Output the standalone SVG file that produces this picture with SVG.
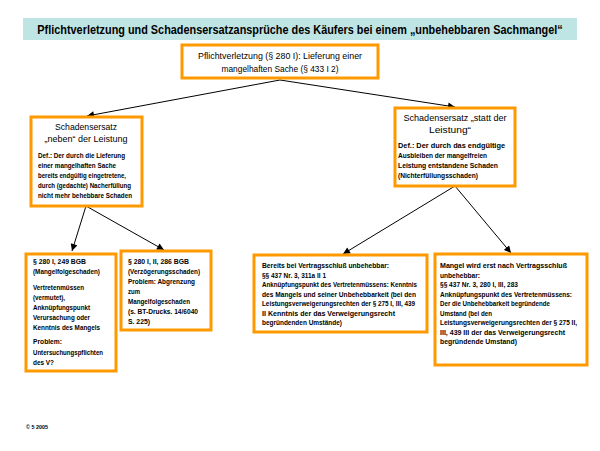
<svg xmlns="http://www.w3.org/2000/svg" width="600" height="451" viewBox="0 0 600 451">
<defs>
<style>
text{font-family:"Liberation Sans Narrow","Liberation Sans",Arial,sans-serif;fill:#000}
.title{font-size:12px;font-weight:bold}
.hd{font-size:9.5px}
.bd{font-size:7.2px;font-weight:bold}
.mid{text-anchor:middle}
.box{fill:#fff;stroke:#ff9900;stroke-width:3}
.con{stroke:#000;stroke-width:1;fill:none}
.small{font-size:6px;font-weight:bold}
</style>
<marker id="ah" viewBox="0 0 10 10" refX="10" refY="5" markerWidth="8" markerHeight="7" markerUnits="userSpaceOnUse" orient="auto">
<path d="M0,0 L10,5 L0,10 z" fill="#000"/>
</marker>
</defs>
<rect width="600" height="451" fill="#fff"/>
<g id="title">
<rect x="23" y="18" width="554" height="22" fill="#bfe4e4"/>
<text class="title mid" transform="translate(300,33.5) scale(0.85,1)" x="0" y="0" textLength="618" lengthAdjust="spacingAndGlyphs">Pflichtverletzung und Schadensersatzansprüche des Käufers bei einem „unbehebbaren Sachmangel“</text>
</g>
<g id="connectors">
<line class="con" x1="280" y1="80" x2="87" y2="116" marker-end="url(#ah)"/>
<line class="con" x1="280" y1="80" x2="455" y2="107" marker-end="url(#ah)"/>
<line class="con" x1="86" y1="206" x2="72" y2="251" marker-end="url(#ah)"/>
<line class="con" x1="86" y1="206" x2="164" y2="250" marker-end="url(#ah)"/>
<line class="con" x1="455" y1="186" x2="343" y2="254" marker-end="url(#ah)"/>
<line class="con" x1="455" y1="186" x2="511" y2="253" marker-end="url(#ah)"/>
</g>
<g id="node-root">
<rect class="box" x="182" y="45" width="196" height="33"/>
<text class="hd mid" x="280" y="59" textLength="164" lengthAdjust="spacingAndGlyphs">Pflichtverletzung (§ 280 I): Lieferung einer</text>
<text class="hd mid" x="280" y="72" textLength="117" lengthAdjust="spacingAndGlyphs">mangelhaften Sache (§ 433 I 2)</text>
</g>
<g id="node-neben">
<rect class="box" x="31" y="117" width="111" height="89"/>
<text class="hd mid" x="86" y="130" textLength="62" lengthAdjust="spacingAndGlyphs">Schadensersatz</text>
<text class="hd mid" x="86" y="142" textLength="83" lengthAdjust="spacingAndGlyphs">„neben“ der Leistung</text>
<text class="bd" x="38" y="158" textLength="87" lengthAdjust="spacingAndGlyphs">Def.: Der durch die Lieferung</text>
<text class="bd" x="38" y="168" textLength="78" lengthAdjust="spacingAndGlyphs">einer mangelhaften Sache</text>
<text class="bd" x="38" y="178" textLength="88" lengthAdjust="spacingAndGlyphs">bereits endgültig eingetretene,</text>
<text class="bd" x="38" y="188" textLength="93" lengthAdjust="spacingAndGlyphs">durch (gedachte) Nacherfüllung</text>
<text class="bd" x="38" y="198" textLength="94" lengthAdjust="spacingAndGlyphs">nicht mehr behebbare Schaden</text>
</g>
<g id="node-statt">
<rect class="box" x="395" y="108" width="120" height="78"/>
<text class="hd mid" x="455" y="121" textLength="103" lengthAdjust="spacingAndGlyphs">Schadensersatz „statt der</text>
<text class="hd mid" x="450" y="133" textLength="42" lengthAdjust="spacingAndGlyphs">Leistung“</text>
<text class="bd" x="398" y="148" textLength="107" lengthAdjust="spacingAndGlyphs">Def.: Der durch das endgültige</text>
<text class="bd" x="398" y="157.5" textLength="89" lengthAdjust="spacingAndGlyphs">Ausbleiben der mangelfreien</text>
<text class="bd" x="398" y="167.5" textLength="100" lengthAdjust="spacingAndGlyphs">Leistung entstandene Schaden</text>
<text class="bd" x="398" y="178" textLength="80" lengthAdjust="spacingAndGlyphs">(Nichterfüllungsschaden)</text>
</g>
<g id="node-mangelfolge">
<rect class="box" x="26" y="254" width="90" height="117"/>
<text class="bd" x="33" y="264" textLength="53" lengthAdjust="spacingAndGlyphs">§ 280 I, 249 BGB</text>
<text class="bd" x="33" y="274" textLength="67" lengthAdjust="spacingAndGlyphs">(Mangelfolgeschaden)</text>
<text class="bd" x="33" y="290" textLength="51" lengthAdjust="spacingAndGlyphs">Vertretenmüssen</text>
<text class="bd" x="33" y="300" textLength="32" lengthAdjust="spacingAndGlyphs">(vermutet),</text>
<text class="bd" x="33" y="310" textLength="57" lengthAdjust="spacingAndGlyphs">Anknüpfungspunkt</text>
<text class="bd" x="33" y="320" textLength="57" lengthAdjust="spacingAndGlyphs">Verursachung oder</text>
<text class="bd" x="33" y="330" textLength="67" lengthAdjust="spacingAndGlyphs">Kenntnis des Mangels</text>
<text class="bd" x="33" y="344" textLength="29" lengthAdjust="spacingAndGlyphs">Problem:</text>
<text class="bd" x="33" y="355" textLength="70" lengthAdjust="spacingAndGlyphs">Untersuchungspflichten</text>
<text class="bd" x="33" y="365" textLength="21" lengthAdjust="spacingAndGlyphs">des V?</text>
</g>
<g id="node-verzoegerung">
<rect class="box" x="121" y="251" width="90" height="79"/>
<text class="bd" x="128" y="264" textLength="61" lengthAdjust="spacingAndGlyphs">§ 280 I, II, 286 BGB</text>
<text class="bd" x="128" y="274" textLength="72" lengthAdjust="spacingAndGlyphs">(Verzögerungsschaden)</text>
<text class="bd" x="128" y="284" textLength="67" lengthAdjust="spacingAndGlyphs">Problem: Abgrenzung</text>
<text class="bd" x="128" y="294" textLength="12" lengthAdjust="spacingAndGlyphs">zum</text>
<text class="bd" x="128" y="304" textLength="62" lengthAdjust="spacingAndGlyphs">Mangelfolgeschaden</text>
<text class="bd" x="128" y="314" textLength="70" lengthAdjust="spacingAndGlyphs">(s. BT-Drucks. 14/6040</text>
<text class="bd" x="128" y="324" textLength="22" lengthAdjust="spacingAndGlyphs">S. 225)</text>
</g>
<g id="node-anfaenglich">
<rect class="box" x="254" y="255" width="173" height="77"/>
<text class="bd" x="262" y="268" textLength="127" lengthAdjust="spacingAndGlyphs">Bereits bei Vertragsschluß unbehebbar:</text>
<text class="bd" x="262" y="277.5" textLength="64" lengthAdjust="spacingAndGlyphs">§§ 437 Nr. 3, 311a II 1</text>
<text class="bd" x="262" y="287" textLength="155" lengthAdjust="spacingAndGlyphs">Anknüpfungspunkt des Vertretenmüssens: Kenntnis</text>
<text class="bd" x="262" y="296.5" textLength="154" lengthAdjust="spacingAndGlyphs">des Mangels und seiner Unbehebbarkeit (bei den</text>
<text class="bd" x="262" y="306" textLength="153" lengthAdjust="spacingAndGlyphs">Leistungsverweigerungsrechten der § 275 I, III, 439</text>
<text class="bd" x="262" y="315.5" textLength="133" lengthAdjust="spacingAndGlyphs">II Kenntnis der das Verweigerungsrecht</text>
<text class="bd" x="262" y="325" textLength="80" lengthAdjust="spacingAndGlyphs">begründenden Umstände)</text>
</g>
<g id="node-nachtraeglich">
<rect class="box" x="435" y="254" width="152" height="111"/>
<text class="bd" x="440" y="268" textLength="127" lengthAdjust="spacingAndGlyphs">Mangel wird erst nach Vertragsschluß</text>
<text class="bd" x="440" y="277.5" textLength="40" lengthAdjust="spacingAndGlyphs">unbehebbar:</text>
<text class="bd" x="440" y="287" textLength="78" lengthAdjust="spacingAndGlyphs">§§ 437 Nr. 3, 280 I, III, 283</text>
<text class="bd" x="440" y="296.5" textLength="132" lengthAdjust="spacingAndGlyphs">Anknüpfungspunkt des Vertretenmüssens:</text>
<text class="bd" x="440" y="306" textLength="110" lengthAdjust="spacingAndGlyphs">Der die Unbehebbarkeit begründende</text>
<text class="bd" x="440" y="315.5" textLength="52" lengthAdjust="spacingAndGlyphs">Umstand (bei den</text>
<text class="bd" x="440" y="325" textLength="137" lengthAdjust="spacingAndGlyphs">Leistungsverweigerungsrechten der § 275 II,</text>
<text class="bd" x="440" y="334.5" textLength="125" lengthAdjust="spacingAndGlyphs">III, 439 III der das Verweigerungsrecht</text>
<text class="bd" x="440" y="344" textLength="77" lengthAdjust="spacingAndGlyphs">begründende Umstand)</text>
</g>
<text class="small" x="26" y="429" textLength="22" lengthAdjust="spacingAndGlyphs">© 5 2005</text>
</svg>
